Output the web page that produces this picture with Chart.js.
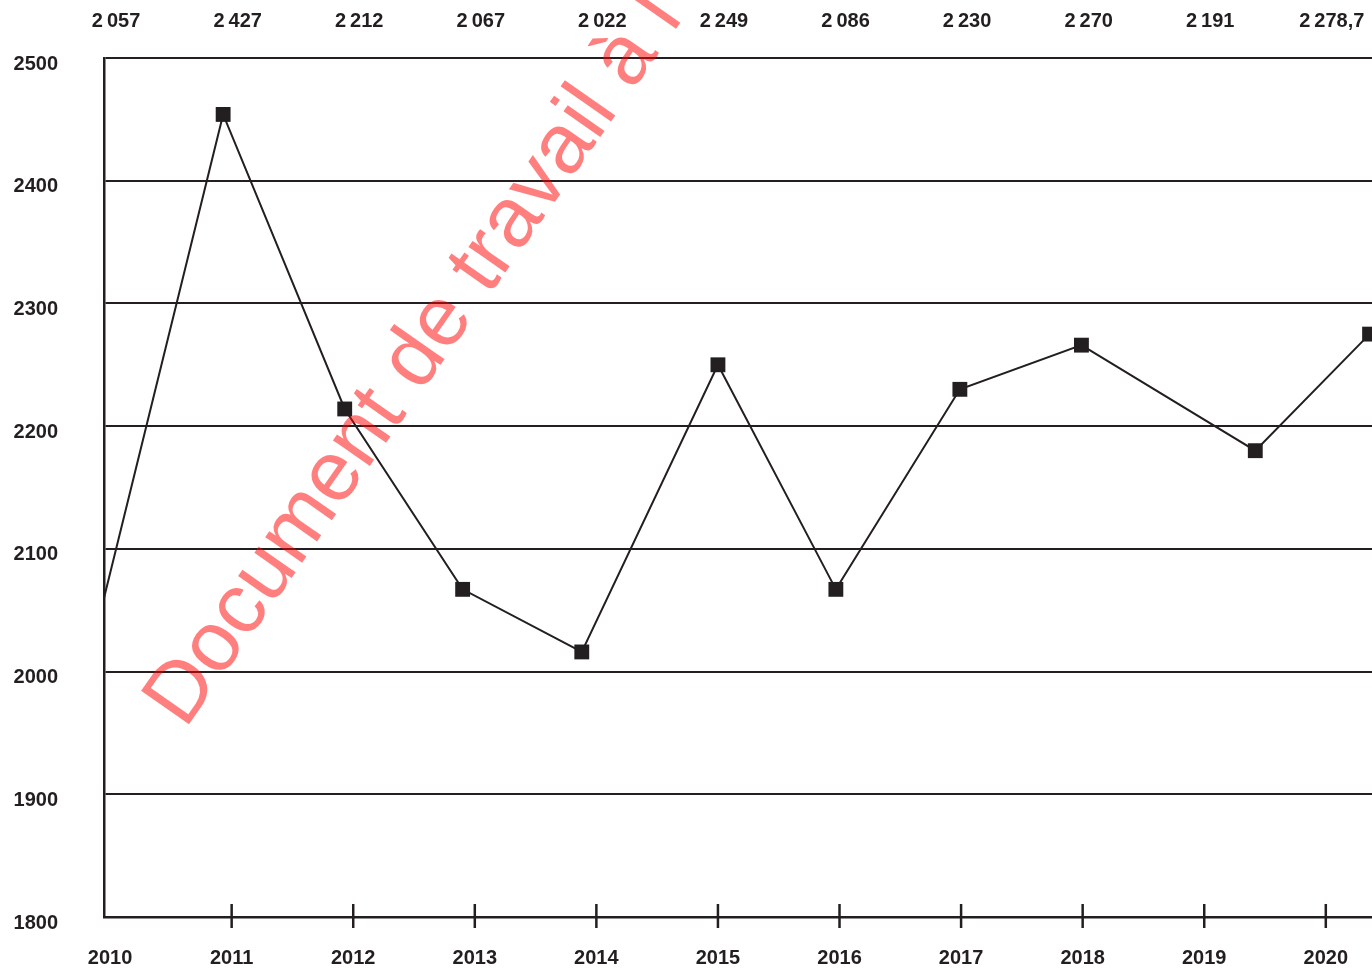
<!DOCTYPE html>
<html>
<head>
<meta charset="utf-8">
<script src="https://cdn.jsdelivr.net/npm/chart.js@4.4.0/dist/chart.umd.min.js"></script>
<style>
  html, body { margin: 0; padding: 0; background: #fff; }
  #wrap { width: 1372px; height: 969px; position: relative; }
</style>
</head>
<body>
<div id="wrap"><canvas id="myChart"></canvas></div>
<script>
// Years on the axis and the value printed above each one
var years = [2010, 2011, 2012, 2013, 2014, 2015, 2016, 2017, 2018, 2019, 2020];
var valueLabels = ['2\u2009057', '2\u2009427', '2\u2009212', '2\u2009067', '2\u2009022', '2\u2009249',
                   '2\u2009086', '2\u2009230', '2\u2009270', '2\u2009191', '2\u2009278,7'];

// Where the points sit in the picture (year position, value)
var pointYears = [2009.95, 2010.93, 2011.93, 2012.9, 2013.88, 2015, 2015.97, 2016.99, 2017.99, 2019.42, 2020.36];
var pointValues = [2060, 2454, 2214, 2067, 2016, 2250, 2067, 2230, 2266, 2180, 2275];

var ink = '#231f20';
var fontFamily = '"Liberation Sans", Arial, sans-serif';

var points = pointYears.map(function (x, i) { return { x: x, y: pointValues[i] }; });

// tick marks crossing the x axis, value labels on top, watermark
var decorations = {
  id: 'decorations',
  afterDraw: function (chart) {
    var ctx = chart.ctx;
    var xs = chart.scales.x;
    var area = chart.chartArea;
    ctx.save();
    ctx.strokeStyle = ink;
    ctx.lineWidth = 2.5;
    years.forEach(function (yr, i) {
      if (i === 0) return;
      var px = xs.getPixelForValue(yr);
      ctx.beginPath();
      ctx.moveTo(px, area.bottom - 13);
      ctx.lineTo(px, area.bottom + 11);
      ctx.stroke();
    });

    ctx.fillStyle = ink;
    ctx.font = 'bold 20px ' + fontFamily;
    ctx.textAlign = 'center';
    ctx.textBaseline = 'middle';
    years.forEach(function (yr, i) {
      ctx.fillText(valueLabels[i], xs.getPixelForValue(yr) + 6, 21);
    });

    ctx.translate(185, 730);
    ctx.rotate(-55 * Math.PI / 180);
    ctx.fillStyle = 'rgba(255, 0, 0, 0.5)';
    ctx.font = '85px ' + fontFamily;
    ctx.textAlign = 'left';
    ctx.textBaseline = 'alphabetic';
    ctx.fillText('Document de travail \u00e0 l\u2019usage interne', 0, 0);
    ctx.restore();
  }
};

var myChart = new Chart(document.getElementById('myChart').getContext('2d'), {
  type: 'line',
  data: {
    datasets: [{
      data: points,
      borderColor: ink,
      borderWidth: 2,
      tension: 0,
      pointStyle: 'rect',
      pointRadius: pointYears.map(function (x, i) { return i === 0 ? 0 : 10.5; }),
      pointBackgroundColor: ink,
      pointBorderColor: ink,
      pointBorderWidth: 0,
      clip: false
    }]
  },
  options: {
    responsive: true,
    maintainAspectRatio: false,
    animation: false,
    events: [],
    layout: { autoPadding: false, padding: { top: 58, left: 0, right: 0, bottom: 0 } },
    plugins: { legend: { display: false }, tooltip: { enabled: false } },
    scales: {
      x: {
        type: 'linear',
        min: 2009.95,
        max: 2020.38,
        afterBuildTicks: function (scale) {
          scale.ticks = years.map(function (v) { return { value: v }; });
        },
        afterFit: function (scale) {
          scale.height = 52;
          scale.paddingLeft = 0;
          scale.paddingRight = 0;
        },
        ticks: {
          autoSkip: false,
          maxRotation: 0,
          padding: 29,
          color: ink,
          font: { family: fontFamily, size: 20, weight: 'bold' },
          callback: function (v) { return String(v); }
        },
        grid: { display: true, drawOnChartArea: false, drawTicks: false },
        border: { display: true, color: ink, width: 2.5 }
      },
      y: {
        min: 1800,
        max: 2500,
        afterFit: function (scale) {
          scale.width = 104;
          scale.paddingTop = 0;
          scale.paddingBottom = 0;
        },
        ticks: {
          stepSize: 100,
          padding: 46,
          labelOffset: 6,
          color: ink,
          font: { family: fontFamily, size: 20, weight: 'bold' },
          callback: function (v) { return String(v); }
        },
        grid: { color: ink, lineWidth: 2, drawTicks: false },
        border: { display: true, color: ink, width: 2.5 }
      }
    }
  },
  plugins: [decorations]
});
</script>
</body>
</html>
